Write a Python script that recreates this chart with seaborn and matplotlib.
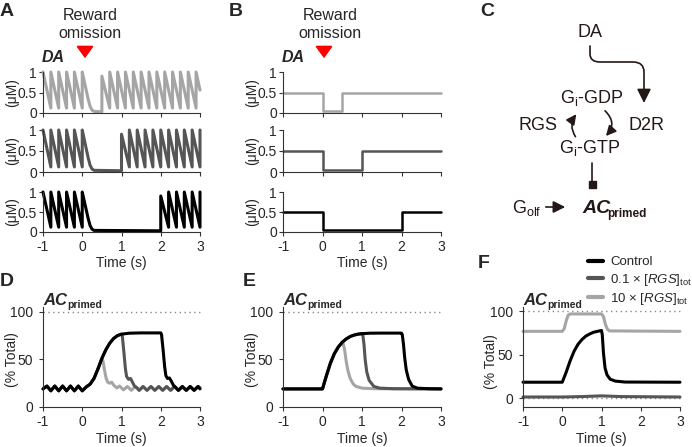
import numpy as np
import pandas as pd
import seaborn as sns
import matplotlib.pyplot as plt
from matplotlib.patches import FancyArrowPatch, Rectangle
from matplotlib.path import Path

# ---------------- data ----------------
t_ticks = [-1, 0, 1, 2, 3]
pause_names = ['pause 0.5 s', 'pause 1 s', 'pause 2 s']
shades = ['#a5a5a5', '#555555', '#000000']

# A: phasic DA spikes (5 Hz), pause after reward omission
spikes_pre = [-1.0, -0.8, -0.6, -0.4, -0.2, 0.0]
spikes_after_05 = [0.5, 0.7, 0.9, 1.1, 1.3, 1.5, 1.7, 1.9, 2.1, 2.3, 2.5, 2.7, 2.9]
spikes_after_1 = [1.0, 1.2, 1.4, 1.6, 1.8, 2.0, 2.2, 2.4, 2.6, 2.8, 3.0]
spikes_after_2 = [2.0, 2.2, 2.4, 2.6, 2.8, 3.0]
da_peak = 1.0
da_first_peak = 0.9
da_trough = 0.12
da_floor = 0.03
da_decay_t = [0.05, 0.1, 0.15, 0.2, 0.25, 0.3]
da_decay_v = [0.78, 0.56, 0.34, 0.16, 0.07, 0.04]
da_end_05 = 0.56

# B: tonic DA with a pause
tonic_level = 0.5
tonic_floor = 0.05
pause_ends = [0.5, 1.0, 2.0]

# D: AC_primed, phasic input
d_base_t = [-1.0, -0.9, -0.8, -0.7, -0.6, -0.5, -0.4, -0.3, -0.2, -0.1, 0.0, 0.1, 0.2, 0.3, 0.4, 0.5]
d_base_v = [19, 22, 17, 22, 17, 22, 17, 22, 17, 22, 17, 21, 24, 30, 40, 51]
d_tail05_t = [0.53, 0.57, 0.61, 0.65, 0.70, 0.75, 0.80, 0.88, 0.95, 1.05, 1.15, 1.25, 1.35, 1.45, 1.55,
              1.65, 1.75, 1.85, 1.95, 2.05, 2.15, 2.25, 2.35, 2.45, 2.55, 2.65, 2.75, 2.85, 2.95, 3.0]
d_tail05_v = [48, 38, 30, 26, 25, 26, 23, 20, 22, 18, 21.5, 17.5, 21.5, 17.5, 21.5,
              17.5, 21.5, 17.5, 21.5, 17.5, 21.5, 17.5, 21.5, 17.5, 21.5, 17.5, 21.5, 17.5, 21.5, 20]
d_mid_t = [0.6, 0.7, 0.8, 0.9, 1.0]
d_mid_v = [60, 67, 72, 75, 76.5]
d_tail1_t = [1.02, 1.06, 1.10, 1.13, 1.18, 1.23, 1.28, 1.33, 1.40, 1.45, 1.55, 1.65, 1.75, 1.85, 1.95,
             2.05, 2.15, 2.25, 2.35, 2.45, 2.55, 2.65, 2.75, 2.85, 2.95, 3.0]
d_tail1_v = [75, 58, 40, 32, 29, 30, 26, 22, 20, 17.5, 21.5, 17.5, 21.5, 17.5, 21.5,
             17.5, 21.5, 17.5, 21.5, 17.5, 21.5, 17.5, 21.5, 17.5, 21.5, 20]
d_plateau_t = [1.2, 1.5, 2.0]
d_plateau_v = [77.5, 77.8, 77.8]
d_tail2_t = [2.02, 2.06, 2.10, 2.13, 2.17, 2.22, 2.27, 2.32, 2.38, 2.45, 2.55, 2.65, 2.75, 2.85, 2.95, 3.0]
d_tail2_v = [76, 60, 42, 33, 30, 30.5, 27, 23, 20.5, 17.5, 21.5, 17.5, 21.5, 17.5, 21.5, 19]

# E: AC_primed, tonic input
e_base_t = [-1.0, 0.0, 0.1, 0.2, 0.3, 0.4, 0.5]
e_base_v = [19, 19, 33, 46, 56, 63, 68]
e_tail05_t = [0.52, 0.56, 0.60, 0.64, 0.70, 0.78, 0.85, 1.0, 1.3, 3.0]
e_tail05_v = [67, 60, 48, 39, 30, 24, 21.6, 19.8, 19.2, 19]
e_mid_t = [0.6, 0.7, 0.8, 0.9, 1.0]
e_mid_v = [71.5, 74, 75.5, 76.5, 77]
e_tail1_t = [1.02, 1.05, 1.08, 1.12, 1.18, 1.30, 1.45, 1.8, 3.0]
e_tail1_v = [76, 66, 50, 37, 28, 21.6, 19.8, 19.2, 19]
e_plateau_t = [1.2, 1.5, 2.0]
e_plateau_v = [77.5, 77.6, 77.6]
e_tail2_t = [2.02, 2.05, 2.08, 2.12, 2.18, 2.27, 2.4, 2.7, 3.0]
e_tail2_v = [76, 66, 52, 39, 29, 22, 19.8, 19.2, 19]

# F: RGS manipulation
f_names = ['Control', r'0.1 × [$\it{RGS}$]$_{\rm tot}$', r'10 × [$\it{RGS}$]$_{\rm tot}$']
f_ctrl_t = [-1.0, 0.0, 0.1, 0.2, 0.3, 0.4, 0.5, 0.6, 0.7, 0.8, 0.9, 1.0, 1.02, 1.05, 1.09, 1.14, 1.22, 1.35, 1.6, 3.0]
f_ctrl_v = [18.5, 18.5, 30, 43, 54, 62, 67.5, 71.5, 74, 76, 77, 78, 73, 52, 35, 27, 22, 19.8, 18.7, 18.5]
f_low_t = [-1.0, 0.0, 0.5, 1.0, 1.5, 3.0]
f_low_v = [1.5, 1.5, 2.0, 2.8, 2.0, 1.5]
f_high_t = [-1.0, 0.0, 0.05, 0.1, 0.15, 0.2, 1.0, 1.05, 1.1, 1.15, 1.2, 3.0]
f_high_v = [77, 77, 80, 89, 95.5, 97, 97, 94, 85, 79.5, 77.5, 77]


# ---------------- build tables ----------------
def spike_train(post, end_val=None):
    pts = []
    for s in spikes_pre:
        if pts:
            pts.append((s, da_trough))
        pts.append((s, da_peak))
    pts += list(zip(da_decay_t, da_decay_v))
    pts.append((post[0], da_floor))
    pts.append((post[0], da_first_peak))
    for s in post[1:]:
        pts.append((s, da_trough))
        pts.append((s, da_peak))
    if end_val is not None:
        pts.append((3.0, end_val))
    return pd.DataFrame(pts, columns=['t', 'v'])


def step_trace(end):
    return pd.DataFrame({'t': [-1, 0, 0, end, end, 3],
                         'v': [tonic_level, tonic_level, tonic_floor, tonic_floor, tonic_level, tonic_level]})


def long_table(parts, names):
    frames = []
    for (tt, vv), n in zip(parts, names):
        frames.append(pd.DataFrame({'t': tt, 'v': vv, 'curve': n}))
    return pd.concat(frames, ignore_index=True)


da_phasic = [spike_train(spikes_after_05, da_end_05), spike_train(spikes_after_1), spike_train(spikes_after_2)]
da_tonic = [step_trace(e) for e in pause_ends]

d_df = long_table([
    (d_base_t + d_tail05_t, d_base_v + d_tail05_v),
    (d_base_t + d_mid_t + d_tail1_t, d_base_v + d_mid_v + d_tail1_v),
    (d_base_t + d_mid_t + d_plateau_t + d_tail2_t, d_base_v + d_mid_v + d_plateau_v + d_tail2_v),
], pause_names)
e_df = long_table([
    (e_base_t + e_tail05_t, e_base_v + e_tail05_v),
    (e_base_t + e_mid_t + e_tail1_t, e_base_v + e_mid_v + e_tail1_v),
    (e_base_t + e_mid_t + e_plateau_t + e_tail2_t, e_base_v + e_mid_v + e_plateau_v + e_tail2_v),
], pause_names)
f_df = long_table([(f_ctrl_t, f_ctrl_v), (f_low_t, f_low_v), (f_high_t, f_high_v)], f_names)

# ---------------- figure ----------------
sns.set_style('ticks')
plt.rcParams['font.family'] = ['Liberation Sans', 'DejaVu Sans']
plt.rcParams['mathtext.fontset'] = 'custom'
plt.rcParams['mathtext.rm'] = 'Liberation Sans'
plt.rcParams['mathtext.it'] = 'Liberation Sans:italic'
plt.rcParams['mathtext.bf'] = 'Liberation Sans:bold'
plt.rcParams['axes.unicode_minus'] = False

W, H = 692, 447
fig = plt.figure(figsize=(W / 100, H / 100), dpi=100)


def px(x):
    return x / W


def py(y):
    return 1 - y / H


def box(x0, x1, y0, y1):
    return fig.add_axes([px(x0), py(y1), px(x1) - px(x0), py(y0) - py(y1)])


def style(ax, xlabels, ypad):
    sns.despine(ax=ax)
    ax.set_xlim(-1, 3)
    ax.set_xticks(t_ticks)
    ax.set_xticklabels([str(t) for t in t_ticks] if xlabels else [])
    ax.tick_params(direction='out', length=3, width=0.8, color='#333333', labelsize=10)
    ax.tick_params(axis='x', pad=3)
    ax.tick_params(axis='y', pad=ypad)
    for s in ['left', 'bottom']:
        ax.spines[s].set_linewidth(0.8)
        ax.spines[s].set_color('#333333')
    ax.set_xlabel('')
    ax.set_ylabel('')
    for ln in ax.lines:
        ln.set_clip_on(False)


# panels A and B
rows = [(72, 113), (130, 172), (192, 232)]
for col, (x0, x1, traces, lw) in enumerate([(43, 200, da_phasic, 2.2), (283, 441, da_tonic, 1.8)]):
    for i, (y0, y1) in enumerate(rows):
        ax = box(x0, x1, y0, y1)
        sns.lineplot(data=traces[i], x='t', y='v', color=shades[i], lw=lw,
                     estimator=None, sort=False, ax=ax)
        ax.set_ylim(0, 1)
        ax.set_yticks([0, 0.5, 1])
        ax.set_yticklabels(['0', '0.5', '1'])
        style(ax, i == 2, 1.5)
        fig.text(px(x0 - 31), py((y0 + y1) / 2), '(μM)', rotation=90, ha='center', va='center', fontsize=10)
    fig.text(px((x0 + x1) / 2), py(263), 'Time (s)', ha='center', va='center', fontsize=10)
    fig.text(px(x0 + 10), py(57), 'DA', ha='center', va='center', fontsize=11.5,
             fontweight='bold', fontstyle='italic')
    fig.text(px(x0 + 47), py(16), 'Reward', ha='center', va='center', fontsize=11.5)
    fig.text(px(x0 + 47), py(33), 'omission', ha='center', va='center', fontsize=11.5)
    xa = x0 + 42 if col == 0 else x0 + 41
    fig.add_artist(FancyArrowPatch((px(xa), py(47)), (px(xa), py(61)), transform=fig.transFigure,
                                   arrowstyle='-|>,head_length=0.55,head_width=0.4', mutation_scale=13,
                                   color='#ff0000', lw=1.4))

# panels D, E, F
palette = dict(zip(pause_names, shades))
for x0, x1, df in [(43, 200, d_df), (283, 441, e_df)]:
    ax = box(x0, x1, 307, 407)
    ax.axhline(100, color='#888888', lw=1, ls=(0, (1, 2.5)))
    sns.lineplot(data=df, x='t', y='v', hue='curve', hue_order=pause_names, palette=palette,
                 lw=2.2, estimator=None, sort=False, legend=False, ax=ax)
    ax.set_ylim(0, 105)
    ax.set_yticks([0, 50, 100])
    style(ax, True, 4)
    fig.text(px(x0 - 31), py(360), '(% Total)', rotation=90, ha='center', va='center', fontsize=10)
    fig.text(px((x0 + x1) / 2), py(439), 'Time (s)', ha='center', va='center', fontsize=10)
    fig.text(px(x0), py(305), 'AC', fontsize=12, fontweight='bold', fontstyle='italic', va='baseline')
    fig.text(px(x0 + 24), py(308), 'primed', fontsize=7.5, fontweight='bold', va='baseline')

f_palette = dict(zip(f_names, ['#000000', '#555555', '#a5a5a5']))
ax = box(523, 680, 307, 407)
ax.axhline(100, color='#888888', lw=1, ls=(0, (1, 2.5)))
ax.axhline(0, color='#888888', lw=1, ls=(0, (1, 2.5)))
sns.lineplot(data=f_df, x='t', y='v', hue='curve', hue_order=f_names, palette=f_palette,
             lw=2.2, estimator=None, sort=False, ax=ax)
ax.set_ylim(-10, 105)
ax.set_yticks([0, 50, 100])
ax.legend(loc='upper left', bbox_to_anchor=(px(588), py(256)), bbox_transform=fig.transFigure,
          frameon=False, handlelength=1.1, handletextpad=0.6, labelspacing=0.25, borderpad=0,
          borderaxespad=0, fontsize=9.5)
for h in ax.get_legend().get_lines():
    h.set_linewidth(3)
style(ax, True, 4)
fig.text(px(491), py(362), '(% Total)', rotation=90, ha='center', va='center', fontsize=10)
fig.text(px(601), py(439), 'Time (s)', ha='center', va='center', fontsize=10)
fig.text(px(523), py(305), 'AC', fontsize=12, fontweight='bold', fontstyle='italic', va='baseline')
fig.text(px(547), py(308), 'primed', fontsize=7.5, fontweight='bold', va='baseline')

# panel letters
for letter, (x, y) in zip('ABCDEF', [(7, 12), (236, 12), (487, 12), (7, 281), (249, 281), (484, 264)]):
    fig.text(px(x), py(y), letter, fontsize=14, fontweight='bold', ha='center', va='center')

# panel C: signalling scheme
ink = '#231815'
axc = fig.add_axes([px(460), 0, px(692) - px(460), 1])
axc.set_xlim(460, 692)
axc.set_ylim(H, 0)
axc.axis('off')
axc.text(590, 37, 'DA', fontsize=13, ha='center', va='baseline', color=ink)
axc.text(592, 103, r'G$_{\rm i}$-GDP', fontsize=13, ha='center', va='baseline', color=ink)
axc.text(590, 153, r'G$_{\rm i}$-GTP', fontsize=13, ha='center', va='baseline', color=ink)
axc.text(519, 130, 'RGS', fontsize=13, ha='left', va='baseline', color=ink)
axc.text(628, 130, 'D2R', fontsize=13, ha='left', va='baseline', color=ink)
axc.text(512, 213, r'G$_{\rm olf}$', fontsize=13, ha='left', va='baseline', color=ink)
axc.text(582, 213, 'AC', fontsize=14, fontweight='bold', fontstyle='italic', ha='left', va='baseline', color=ink)
axc.text(607, 217, 'primed', fontsize=8.5, fontweight='bold', ha='left', va='baseline', color=ink)

da_path = Path([(590, 46), (590, 54), (590, 62), (600, 62), (633, 62), (644, 62), (644, 72), (644, 103)],
               [Path.MOVETO, Path.LINETO, Path.CURVE3, Path.CURVE3, Path.LINETO, Path.CURVE3, Path.CURVE3,
                Path.LINETO])
axc.add_patch(FancyArrowPatch(path=da_path, arrowstyle='-|>,head_length=0.6,head_width=0.3',
                              mutation_scale=14, lw=1.2, color=ink))
axc.add_patch(FancyArrowPatch((577, 139), (578, 112), connectionstyle='arc3,rad=-0.4',
                              arrowstyle='-|>,head_length=0.5,head_width=0.25', mutation_scale=12,
                              lw=1.2, color=ink))
axc.add_patch(FancyArrowPatch((603, 109), (604, 138), connectionstyle='arc3,rad=-0.55',
                              arrowstyle='-|>,head_length=0.5,head_width=0.25', mutation_scale=12,
                              lw=1.2, color=ink))
axc.plot([592, 592], [163, 181], color=ink, lw=1.2)
axc.add_patch(Rectangle((588.5, 180.5), 7, 7, color=ink))
axc.add_patch(FancyArrowPatch((543, 207), (568, 207), arrowstyle='-|>,head_length=0.6,head_width=0.3',
                              mutation_scale=12, lw=1.2, color=ink))

fig.savefig('out.png', dpi=100)
